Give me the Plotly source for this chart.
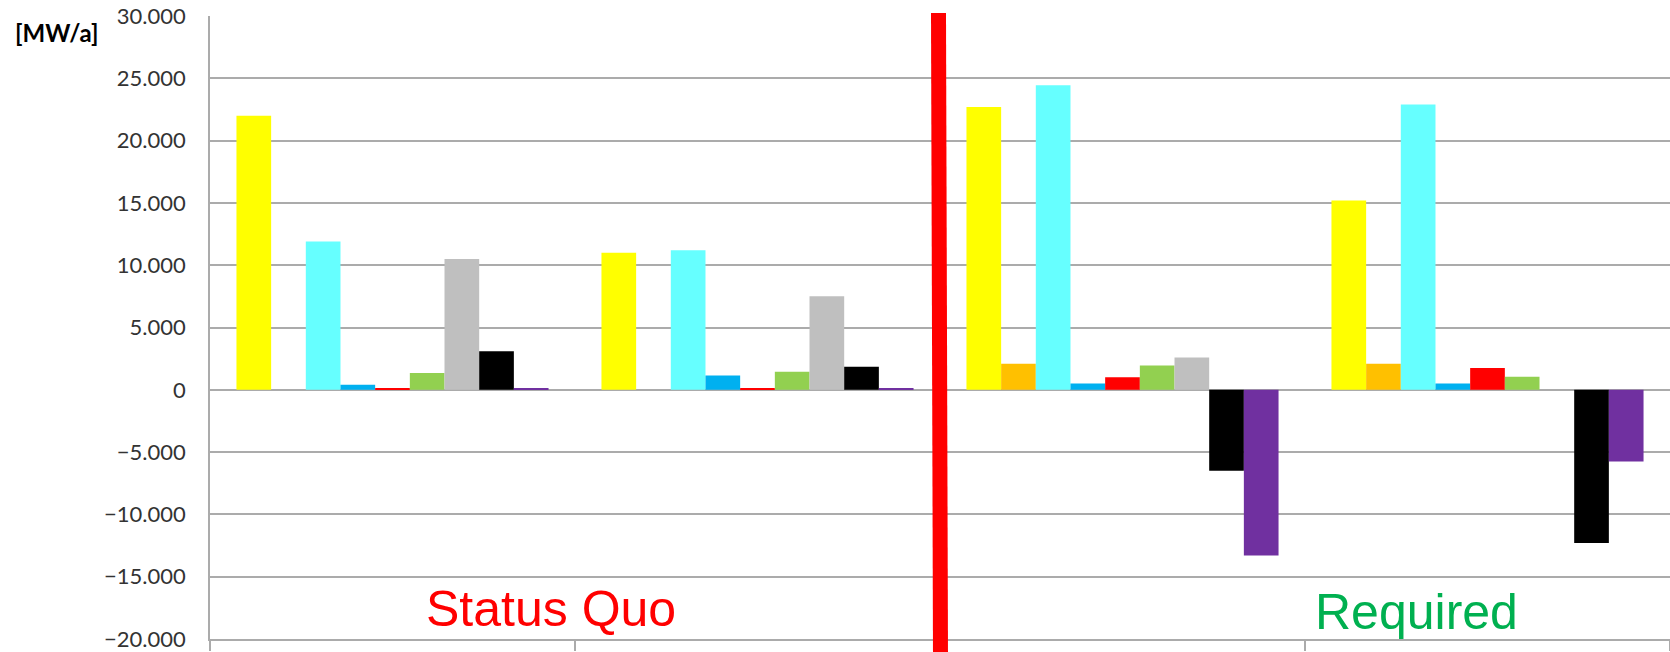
import plotly.graph_objects as go

# Scenario groups on the x axis (labels hidden, groups marked by the captions below)
categories = ["Status Quo A", "Status Quo B", "Required A", "Required B"]

# Annual capacity per technology [MW/a]
series_names = ["PV", "Wind onshore (extra)", "Wind onshore", "Wind offshore",
                "Biomass", "Hydro", "Gas", "Coal", "Nuclear"]
series_colors = ["#FFFF00", "#FFC000", "#66FFFF", "#00B0F0",
                 "#FF0000", "#92D050", "#BFBFBF", "#000000", "#7030A0"]

pv            = [22000, 11000, 22700, 15200]
wind_extra    = [0, 0, 2100, 2100]
wind_onshore  = [11900, 11200, 24450, 22900]
wind_offshore = [400, 1150, 500, 500]
biomass       = [150, 150, 1000, 1750]
hydro         = [1350, 1450, 1950, 1050]
gas           = [10500, 7500, 2600, 0]
coal          = [3100, 1850, -6500, -12300]
nuclear       = [100, 120, -13300, -5750]

series_values = [pv, wind_extra, wind_onshore, wind_offshore,
                 biomass, hydro, gas, coal, nuclear]

y_ticks = [-20000, -15000, -10000, -5000, 0, 5000, 10000, 15000, 20000, 25000, 30000]

W, H = 1670, 652
ML, MR, MT, MB = 210, 0, 16, 10
GRID = "#ABABAB"

fig = go.Figure()
for name, color, vals in zip(series_names, series_colors, series_values):
    fig.add_trace(go.Bar(
        x=categories, y=vals, name=name,
        marker=dict(color=color, line=dict(width=0)),
    ))

fig.update_layout(
    width=W, height=H,
    margin=dict(l=ML, r=MR, t=MT, b=MB, pad=0),
    paper_bgcolor="white", plot_bgcolor="white",
    barmode="group", bargap=0.145, bargroupgap=0,
    showlegend=False,
    separators=",.",
    font=dict(family="Lato, 'Open Sans', sans-serif", color="#333333"),
)

fig.update_xaxes(
    showticklabels=False, showgrid=False,
    ticks="outside", tickson="boundaries", ticklen=10,
    tickcolor=GRID, tickwidth=1.5,
    showline=True, linecolor=GRID, linewidth=1.5,
    zeroline=False,
)

fig.update_yaxes(
    range=[-20000, 30000], tickvals=y_ticks, tickformat=",d",
    showgrid=True, gridcolor=GRID, gridwidth=1.5,
    zeroline=True, zerolinecolor=GRID, zerolinewidth=1.5,
    showline=True, linecolor=GRID, linewidth=1.5,
    ticks="", ticklabelstandoff=18, ticklabeloverflow="allow",
    tickfont=dict(family="Lato, 'Open Sans', sans-serif", size=22, color="#333333"),
)

plot_w = W - ML - MR
plot_h = H - MT - MB


def px_x(px):
    return (px - ML) / plot_w


def px_y(py):
    return (H - MB - py) / plot_h


# Thick red divider between the two scenario blocks
fig.add_shape(
    type="line", xref="paper", yref="paper",
    x0=px_x(938.5), y0=px_y(13), x1=px_x(940.5), y1=px_y(660),
    line=dict(color="#FF0000", width=15),
    layer="above",
)

fig.add_annotation(
    text="<b>[MW/a]</b>", xref="paper", yref="paper",
    x=px_x(13), y=px_y(33), xanchor="left", yanchor="middle",
    showarrow=False,
    font=dict(family="Lato, 'Open Sans', sans-serif", size=24, color="#000000"),
)

fig.add_annotation(
    text="Status Quo", xref="paper", yref="paper",
    x=px_x(551), y=px_y(612), xanchor="center", yanchor="middle",
    showarrow=False,
    font=dict(family="'Liberation Sans', Arial, sans-serif", size=50, color="#FF0000"),
)

fig.add_annotation(
    text="Required", xref="paper", yref="paper",
    x=px_x(1416), y=px_y(615), xanchor="center", yanchor="middle",
    showarrow=False,
    font=dict(family="'Liberation Sans', Arial, sans-serif", size=50, color="#00B050"),
)

fig.write_html("out.html")
